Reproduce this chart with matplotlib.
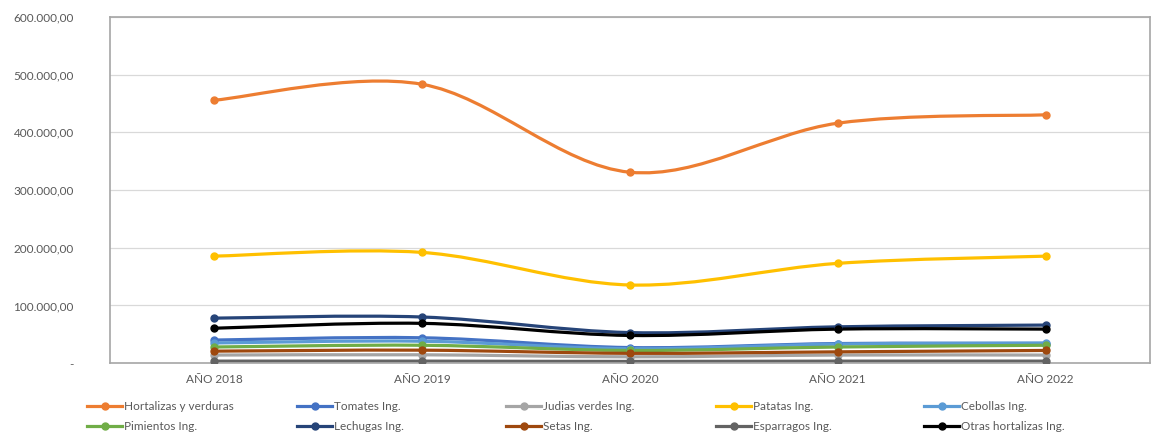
import matplotlib
matplotlib.use('Agg')
import matplotlib.pyplot as plt
from matplotlib.path import Path
from matplotlib.patches import PathPatch
from matplotlib.lines import Line2D
from matplotlib.ticker import FuncFormatter
import numpy as np

plt.rcParams['font.family'] = ['Lato', 'DejaVu Sans']

years = ['AÑO 2018', 'AÑO 2019', 'AÑO 2020', 'AÑO 2021', 'AÑO 2022']

hortalizas = [455800, 483500, 331000, 416000, 430500]
tomates = [40000, 44000, 27000, 34000, 34000]
judias = [14000, 14500, 11000, 14000, 14000]
patatas = [185500, 192000, 135500, 173000, 185500]
cebollas = [35000, 38000, 25000, 33000, 35000]
pimientos = [28000, 31000, 22000, 28000, 31000]
lechugas = [78000, 80000, 53000, 63000, 66000]
setas = [20800, 22500, 17000, 19600, 22000]
esparragos = [3500, 3500, 3000, 3500, 3500]
otras = [60500, 69000, 48000, 59000, 59000]

series = [
    ('Hortalizas y verduras', hortalizas, '#ED7D31'),
    ('Tomates Ing.', tomates, '#4472C4'),
    ('Judias verdes Ing.', judias, '#A5A5A5'),
    ('Patatas Ing.', patatas, '#FFC000'),
    ('Cebollas Ing.', cebollas, '#5B9BD5'),
    ('Pimientos Ing.', pimientos, '#70AD47'),
    ('Lechugas Ing.', lechugas, '#264478'),
    ('Setas Ing.', setas, '#9E480E'),
    ('Esparragos Ing.', esparragos, '#636363'),
    ('Otras hortalizas Ing.', otras, '#000000'),
]


def smooth_path(x, y):
    # Excel-like smoothed line: cubic bezier segments (Catmull-Rom style)
    pts = np.column_stack([x, y]).astype(float)
    n = len(pts)
    verts = [pts[0]]
    codes = [Path.MOVETO]
    for i in range(n - 1):
        p0 = pts[i - 1] if i > 0 else pts[i]
        p1 = pts[i]
        p2 = pts[i + 1]
        p3 = pts[i + 2] if i + 2 < n else pts[i + 1]
        c1 = p1 + (p2 - p0) / 6.0
        c2 = p2 - (p3 - p1) / 6.0
        verts += [c1, c2, p2]
        codes += [Path.CURVE4] * 3
    return Path(verts, codes)


fig = plt.figure(figsize=(11.52, 4.37), dpi=100)
ax = fig.add_axes([0.0955, 0.169, 0.9025, 0.792])

x = np.arange(len(years))
handles = []
for name, vals, col in series:
    patch = PathPatch(smooth_path(x, vals), facecolor='none', edgecolor=col,
                      lw=2.3, capstyle='round', joinstyle='round')
    ax.add_patch(patch)
    ax.plot(x, vals, 'o', color=col, ms=5, zorder=3)
    handles.append(Line2D([0], [0], color=col, lw=2.3, marker='o', ms=5))

ax.set_xlim(-0.5, len(years) - 0.5)
ax.set_ylim(0, 600000)
ax.set_xticks(x)
ax.set_xticklabels(years)
ax.set_yticks(np.arange(0, 600001, 100000))


def fmt(v, pos):
    if v == 0:
        return '-'
    s = '{:,.2f}'.format(v)
    return s.replace(',', 'X').replace('.', ',').replace('X', '.')


ax.yaxis.set_major_formatter(FuncFormatter(fmt))
ax.tick_params(axis='both', length=0, labelsize=8.5, labelcolor='#595959')
ax.tick_params(axis='y', pad=26)
ax.tick_params(axis='x', pad=8)
ax.grid(axis='y', color='#D9D9D9', lw=0.9)
ax.set_axisbelow(True)
for sp in ax.spines.values():
    sp.set_color('#A6A6A6')
    sp.set_linewidth(1.2)

# legend: 5 fixed-width columns, 2 rows
col_x = [87, 297, 506, 716, 924]
for c in range(5):
    idx = [c, c + 5]
    fig.legend([handles[i] for i in idx], [series[i][0] for i in idx],
               loc='upper left', bbox_to_anchor=(col_x[c] / 1152, 1 - 401 / 437),
               ncol=1, frameon=False, fontsize=8.5, labelcolor='#595959',
               handlelength=3.0, handletextpad=0.1, labelspacing=0.75,
               borderaxespad=0, borderpad=0)

fig.savefig('out.png', dpi=100)
